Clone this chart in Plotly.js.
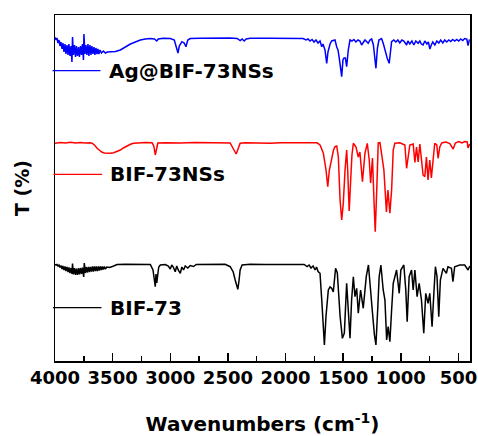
<!DOCTYPE html>
<html>
<head>
<meta charset="utf-8">
<script src="https://cdn.plot.ly/plotly-3.0.1.min.js"></script>
<style>html,body{margin:0;padding:0;background:#fff;}#chart{width:478px;height:436px;}</style>
</head>
<body>
<div id="chart"></div>
<script>
// Series names (legend labels)
const seriesNames = ["Ag@BIF-73NSs", "BIF-73NSs", "BIF-73"];
const seriesColors = ["#0000ff", "#ff0000", "#000000"];

// Ag@BIF-73NSs (top spectrum)
const blueWn = [4000,3991,3983,3974,3965,3957,3948,3939,3931,3922,3913,3905,3896,3887,3879,3870,3861,3853,3848,3840,3831,3822,3814,3805,3796,3788,3779,3770,3762,3753,3749,3740,3732,3723,3714,3706,3697,3688,3680,3671,3662,3654,3645,3636,3628,3619,3610,3597,3580,3563,3545,3519,3476,3433,3390,3346,3303,3260,3216,3173,3138,3117,3104,3060,3000,2965,2948,2933,2922,2899,2879,2864,2848,2827,2740,2610,2480,2420,2394,2377,2359,2342,2307,2134,1961,1848,1822,1805,1788,1770,1753,1736,1718,1701,1686,1675,1658,1643,1632,1614,1600,1571,1556,1545,1534,1513,1502,1493,1481,1470,1456,1441,1424,1407,1390,1372,1355,1340,1329,1311,1283,1268,1253,1238,1216,1203,1190,1167,1151,1138,1118,1101,1091,1080,1061,1043,1026,1009,991,974,950,939,922,904,887,870,850,835,822,807,792,774,761,748,736,723,705,688,671,654,636,619,602,584,567,550,532,515,498,480,463,446,428,417,406,402];
const blueT = [323.7,321,323,318,321,315,319,312,318,309,317,307,316,306,317,305,315,299,324,306,316,304,315,305,314,304,315,306,317,301,327,307,316,306,317,305,316,306,315,307,314,306,313,307,312,307,311,308,310,308,309,309,309.5,311,314,317,319,321,322,322.5,322,320,322,322.7,322.5,321,314,308,315,319.3,318,314.3,321,322.5,322.7,323,323,322.5,320.5,322,320,322,322.7,322.7,322.5,322.5,321,322,320,321.5,319,321,318,320,314.3,317,311,297.7,309,317,320,321,314,311,302.7,284.3,301,303,303,294.3,311,321,320,321.5,319,321,320,316,318,321,317.7,321,322,316,292.7,313,321,322.5,317,311,302.7,297.7,309,319.3,321,319,321,318,321,320,316,320,317,320,316,320,317.7,320,317,316,320,317,319,312,316,319,316,320,318,321,318,321,319,321,319.5,321.5,320,321.5,320,322,320.5,322.5,322,315.3,321,321];

// BIF-73NSs (middle spectrum)
const redWn = [4000,3952,3909,3866,3822,3779,3736,3693,3675,3654,3635,3615,3591,3571,3548,3519,3491,3459,3433,3407,3375,3346,3318,3277,3216,3158,3143,3130,3121,3108,3043,2913,2783,2654,2524,2480,2457,2441,2428,2409,2394,2350,2221,2134,2047,1917,1788,1727,1701,1672,1649,1634,1620,1600,1584,1571,1556,1542,1527,1513,1499,1484,1470,1461,1448,1435,1424,1412,1389,1369,1355,1333,1311,1291,1274,1262,1246,1233,1222,1209,1196,1181,1167,1147,1125,1112,1095,1080,1066,1052,1009,965,950,936,922,893,878,864,850,835,821,807,792,778,764,749,735,720,706,688,677,662,645,610,575,546,527,497,471,445,424,417,402];
const redT = [217.7,218.5,218,218.7,218,218.5,218,218.2,217.5,215.5,212.7,210.5,208.7,208,207.7,207.7,208.3,209.5,211,213,215,216.7,217.7,218.2,218.5,218.2,215,206,212,218,218.3,218,218.5,218.2,218.5,218,213,209,207,213,217.7,218.3,218,217.7,218.3,218.3,218.5,218.2,216,207.7,191,174.3,191,204,211,214.3,215,204,161,141,158,191,211,191,150,181,206,217.7,214,204,209,179.3,208,217.7,201,178,203,161,129.3,171,218,218.3,208,191,149,171,147.7,171,211,217.7,218.3,216,192.7,206,216,217,198.5,214,199,217,199,186,184.3,204,181,201,183,204,217.7,216,202.7,214,218,219,217.5,212,218,219.5,218,219.5,219,213,217];

// BIF-73 (bottom spectrum)
const blackWn = [4000,3991,3983,3974,3965,3957,3948,3939,3931,3922,3913,3905,3896,3887,3879,3870,3861,3853,3848,3840,3831,3822,3814,3805,3796,3788,3779,3770,3762,3751,3746,3736,3727,3719,3710,3701,3693,3684,3675,3667,3658,3649,3641,3632,3623,3615,3606,3597,3589,3580,3571,3563,3550,3528,3502,3461,3390,3303,3216,3173,3150,3138,3130,3124,3117,3110,3100,3086,3043,3017,3000,2987,2974,2957,2944,2931,2913,2900,2885,2870,2848,2827,2798,2775,2697,2610,2524,2480,2454,2437,2414,2403,2394,2377,2307,2177,2047,1917,1874,1839,1813,1796,1779,1761,1744,1731,1718,1701,1686,1672,1663,1649,1629,1614,1600,1586,1566,1551,1527,1507,1490,1470,1456,1441,1427,1412,1398,1383,1369,1349,1326,1300,1281,1260,1243,1229,1216,1201,1188,1173,1153,1138,1123,1110,1095,1080,1066,1037,1014,1000,974,957,945,928,907,893,878,859,841,821,801,784,764,749,729,712,700,686,671,657,634,605,591,561,548,533,489,446,417,402];
const blackT = [96.7,96,96.5,95,96,93.5,95.5,92,95,91,94.5,90,94,89,93.5,88,93,87,97.5,86.5,93,86,92.5,86,93,86.5,93,87,93.5,84,98,88,94,88.5,94,89,94,89.5,94.5,89.5,94.5,90,94.5,90,94.5,90.5,94.5,91,94.5,91.5,94.5,92,94,93.5,94.5,96.5,96.7,96.5,96.7,96.5,91,83,74.3,87,78,85,94,96,96.5,95,92,96,94,89.3,95,91,87.7,94,91,95,93,95.5,94.5,96.5,96.7,96.5,96.7,94.3,89,81,71.7,81,91,96,96.7,96.5,96.5,96.7,96,96.5,94.5,96,93,95,91,94,89.5,87.7,61,31,16,45,71,74,72.7,69,92.7,88,45,22.7,28,77.7,54,22.7,61,84.3,64.3,72.7,47.7,71,52.7,84.3,96,71,44.3,26,16,51,84.3,96,71,61,21,34.3,19.3,51,77.7,91,67.7,91,96,71,39.3,84.3,91,71,91,64.3,77.7,61,27.7,67.7,57.7,67.7,34.3,71,94.3,84.3,44.3,81,92.7,87.7,94.3,92.7,79.3,94.3,96,96,91,95];

// x-axis ticks
const majorTicks = [4000, 3500, 3000, 2500, 2000, 1500, 1000, 500];
const xRange = [4000, 400];
const yRange = [0, 346];

const wnSets = [blueWn, redWn, blackWn];
const tSets = [blueT, redT, blackT];

const traces = seriesNames.map((name, i) => ({
  x: wnSets[i], y: tSets[i], type: 'scatter', mode: 'lines', name: name,
  line: {color: seriesColors[i], width: 1.5}, showlegend: false, hoverinfo: 'skip'
}));

// legend decorations (positions in paper coords)
const legendY = [0.839, 0.5396, 0.154];
const legendX0 = [-0.006, -0.0036, -0.005];
const legendX1 = [0.1095, 0.1136, 0.112];
const legendTextX = [0.1256, 0.1288, 0.1288];

const shapes = seriesNames.map((n, i) => ({
  type: 'line', xref: 'paper', yref: 'paper',
  x0: legendX0[i], x1: legendX1[i], y0: legendY[i], y1: legendY[i],
  line: {color: seriesColors[i], width: 1.3}
}));
const annotations = seriesNames.map((n, i) => ({
  xref: 'paper', yref: 'paper', x: legendTextX[i], y: legendY[i],
  xanchor: 'left', yanchor: 'middle', showarrow: false, text: n,
  font: {family: 'DejaVu Sans', size: 20, weight: 'bold', color: '#000'}
}));

const layout = {
  width: 478, height: 436,
  margin: {l: 55, r: 8, t: 15, b: 75, pad: 0},
  paper_bgcolor: '#fff', plot_bgcolor: '#fff',
  xaxis: {
    range: xRange, tickvals: majorTicks, ticktext: majorTicks.map(String),
    ticks: 'inside', ticklen: 8, tickwidth: 1.5, tickcolor: '#000',
    minor: {dtick: 250, tick0: 500, ticks: 'inside', ticklen: 5.5, tickwidth: 1.5, tickcolor: '#000', showgrid: false},
    showline: true, linecolor: '#000', linewidth: 1.5, mirror: true,
    showgrid: false, zeroline: false,
    tickfont: {family: 'DejaVu Sans', size: 18, weight: 'bold', color: '#000'},
    title: {text: 'Wavenumbers (cm<sup>-1</sup>)', standoff: 30,
      font: {family: 'DejaVu Sans', size: 20, weight: 'bold', color: '#000'}}
  },
  yaxis: {
    range: yRange, showticklabels: false, ticks: '',
    showline: true, linecolor: '#000', linewidth: 1.5, mirror: true,
    showgrid: false, zeroline: false,
    title: {text: 'T (%)', standoff: 19,
      font: {family: 'DejaVu Sans', size: 19, weight: 'bold', color: '#000'}}
  },
  shapes: shapes,
  annotations: annotations,
  showlegend: false
};

Plotly.newPlot('chart', traces, layout, {staticPlot: true, displayModeBar: false});
</script>
</body>
</html>
